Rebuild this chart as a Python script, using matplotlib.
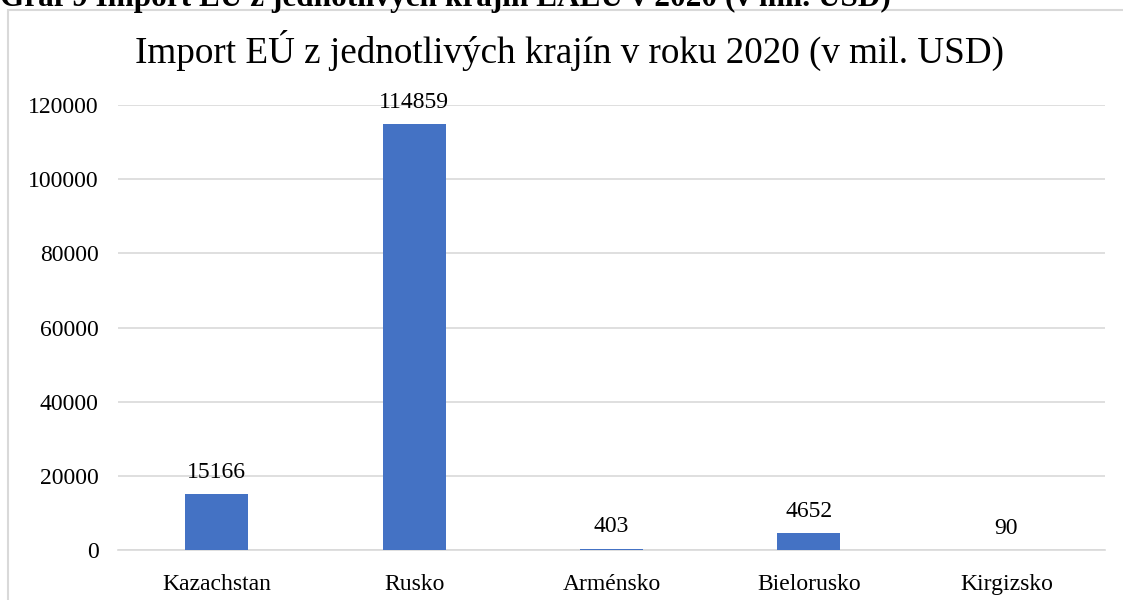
import matplotlib
matplotlib.use("Agg")
from matplotlib import pyplot as plt
from matplotlib.patches import Rectangle
import numpy as np

plt.rcParams['font.family'] = ['Liberation Serif', 'DejaVu Serif']

# EU import from individual EAEU countries, 2020 (mil. USD)
countries = ['Kazachstan', 'Rusko', 'Arménsko', 'Bielorusko', 'Kirgizsko']
imports = [15166, 114859, 403, 4652, 90]
y_ticks = [0, 20000, 40000, 60000, 80000, 100000, 120000]

caption = 'Graf 9 Import EÚ z jednotlivých krajín EAEÚ v 2020 (v mil. USD)'
title = 'Import EÚ z jednotlivých krajín v roku 2020 (v mil. USD)'

fig = plt.figure(figsize=(11.23, 6), dpi=100)

# chart frame (Excel style)
fig.patches.append(Rectangle((8 / 1123, -0.1), 1.2, 1.1 - 10 / 600,
                             transform=fig.transFigure, fill=False,
                             edgecolor='#D9D9D9', linewidth=1.5, zorder=0))

# caption that is cut off at the top of the screenshot
fig.text(0.0, 1 - 6 / 600, caption, fontsize=22.5, fontweight='bold',
         ha='left', va='baseline')

ax = fig.add_axes([118 / 1123, 50 / 600, 987 / 1123, 445 / 600])

x = np.arange(len(countries))
ax.bar(x, imports, width=0.32, color='#4472C4', zorder=3)

for xi, v in zip(x, imports):
    ax.annotate(str(v), (xi, v), xytext=(0, 8), textcoords='offset points',
                ha='center', va='bottom', fontsize=17, color='#000000')

ax.set_xlim(-0.5, len(countries) - 0.5)
ax.set_ylim(0, 120000)
ax.set_yticks(y_ticks)
ax.set_yticklabels([str(t) for t in y_ticks])
ax.set_xticks(x)
ax.set_xticklabels(countries)
ax.tick_params(axis='both', length=0, labelsize=17, colors='#000000')
ax.tick_params(axis='y', pad=14)
ax.tick_params(axis='x', pad=17)

ax.grid(axis='y', color='#D9D9D9', linewidth=1.2, zorder=0)
for s in ['top', 'right', 'left']:
    ax.spines[s].set_visible(False)
ax.spines['bottom'].set_color('#D9D9D9')
ax.spines['bottom'].set_linewidth(1.2)

fig.text(135 / 1123, 1 - 63 / 600, title, fontsize=26.75, ha='left',
         va='baseline', color='#000000')

fig.savefig('out.png', dpi=100)
